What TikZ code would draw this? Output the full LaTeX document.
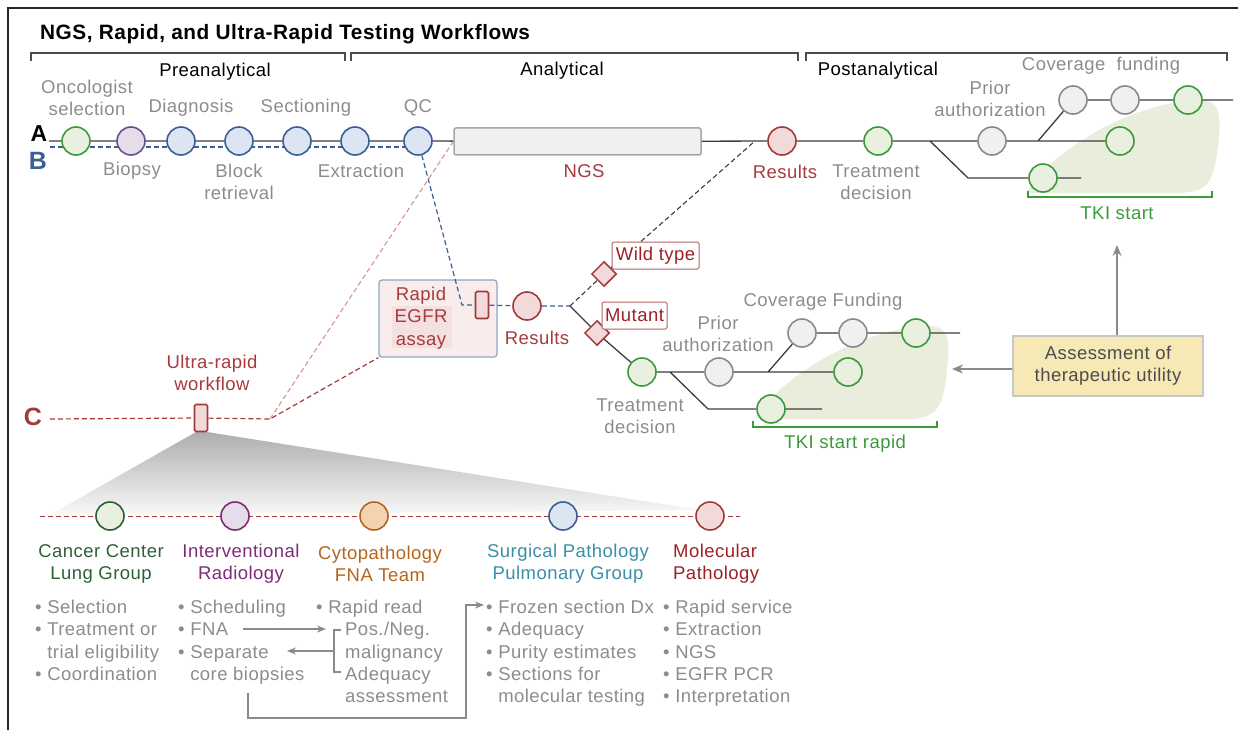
\documentclass[tikz,border=0pt]{standalone}
\usepackage{fontspec}
\setmainfont{Liberation Sans}[LetterSpace=2.5]
\usetikzlibrary{arrows.meta,shapes.geometric,calc}
\pgfdeclarelayer{bg}
\pgfsetlayers{bg,main}
\definecolor{tgray}{HTML}{8C8C8C}
\definecolor{lgray}{HTML}{3C3C3C}
\definecolor{cred}{HTML}{A33A3A}
\definecolor{fred}{HTML}{F2DADA}
\definecolor{tred}{HTML}{A83A3C}
\definecolor{cblue}{HTML}{3A5F96}
\definecolor{fblue}{HTML}{DCE6F2}
\definecolor{cgreen}{HTML}{3C9A3C}
\definecolor{fgreen}{HTML}{E9F0DF}
\definecolor{cpurp}{HTML}{6E4E8C}
\definecolor{fpurp}{HTML}{E6DDEB}
\definecolor{cgr}{HTML}{8A8A8A}
\definecolor{fgr}{HTML}{F0F0F0}
\definecolor{blobc}{HTML}{E9EEDC}
\definecolor{dkgreen}{HTML}{2E6035}
\definecolor{hpurp}{HTML}{7B2D7B}
\definecolor{horange}{HTML}{B5651D}
\definecolor{forange}{HTML}{F3D3B2}
\definecolor{hteal}{HTML}{3A8FA8}
\definecolor{hred}{HTML}{9B2226}
\definecolor{yel}{HTML}{F7E9B5}
\definecolor{ared}{HTML}{D39494}
\definecolor{egfrbd}{HTML}{8FA5C8}
\newcommand\fsA{\fontsize{18.5}{22.3}\selectfont}
\begin{document}
\begin{tikzpicture}[x=1pt,y=-1pt,
  circ/.style={circle,minimum size=28pt,inner sep=0pt,line width=1.6pt},
  gcirc/.style={circ,draw=cgreen,fill=fgreen},
  pcirc/.style={circ,draw=cpurp,fill=fpurp},
  bcirc/.style={circ,draw=cblue,fill=fblue},
  rcirc/.style={circ,draw=cred,fill=fred},
  ycirc/.style={circ,draw=cgr,fill=fgr},
  lab/.style={text=tgray,font=\fsA,align=center,inner sep=0pt},
  rlab/.style={text=tred,font=\fsA,align=center,inner sep=0pt},
  hd/.style={font=\fsA,align=center,inner sep=0pt},
  li/.style={text=tgray,font=\fsA,anchor=base west,inner sep=0pt},
  aline/.style={lgray,line width=1.3pt},
  bdash/.style={cblue,line width=1.2pt,dash pattern=on 5pt off 3pt},
  rdash/.style={cred,line width=1.2pt,dash pattern=on 5pt off 3pt},
  ldash/.style={ared,line width=1.1pt,dash pattern=on 5pt off 3pt},
  kdash/.style={lgray,line width=1.1pt,dash pattern=on 5pt off 3pt},
  dia/.style={diamond,draw=cred,fill=fred,line width=1.5pt,minimum size=25pt,inner sep=0pt},
  rrect/.style={rectangle,draw=cred,fill=fred,line width=1.6pt,minimum width=13pt,minimum height=27pt,inner sep=0pt,rounded corners=1.5pt},
  brk/.style={black!70,line width=1.4pt},
  gbrk/.style={cgreen,line width=2.2pt},
  garrow/.style={cgr,line width=1.8pt,-{Stealth[length=11pt,width=9pt]}},
  sarrow/.style={cgr,line width=1.2pt,-{Stealth[length=9pt,width=7pt]}},
  sline/.style={cgr,line width=1.2pt}
]
\useasboundingbox (0,0) rectangle (1238,730);
% frame
\draw[line width=2pt,black!85] (8,730) -- (8,8) -- (1238,8);
\node[font=\fontsize{20.8}{23}\selectfont\bfseries,anchor=base west,inner sep=0pt] (title) at (40,40) {NGS, Rapid, and Ultra-Rapid Testing Workflows};
% top brackets
\draw[brk] (31,61) -- (31,53) -- (345,53) -- (345,61);
\draw[brk] (351,61) -- (351,53) -- (798,53) -- (798,61);
\draw[brk] (806,61) -- (806,53) -- (1227,53) -- (1227,61);
\node[hd] (pre) at (215,72) {Preanalytical};
\node[hd] (ana) at (562,71) {Analytical};
\node[hd] (post) at (878,71) {Postanalytical};

% blobs
\begin{pgfonlayer}{bg}
\fill[blobc] (1028,190) .. controls (1045,160) and (1120,104) .. (1198,100)
  .. controls (1222,99) and (1221,118) .. (1218,145)
  .. controls (1214,182) and (1208,192) .. (1180,193) -- (1045,193)
  .. controls (1030,193) and (1025,193) .. (1028,190) -- cycle;
\begin{scope}[shift={(-271,226)}]
\fill[blobc] (1028,190) .. controls (1045,160) and (1120,104) .. (1198,100)
  .. controls (1222,99) and (1221,118) .. (1218,145)
  .. controls (1214,182) and (1208,192) .. (1180,193) -- (1045,193)
  .. controls (1030,193) and (1025,193) .. (1028,190) -- cycle;
\end{scope}
% gradient wedge
\shade[top color=black!32,bottom color=black!2] (196,432) -- (207,432) -- (700,510) -- (48,516) -- cycle;
\end{pgfonlayer}

% row labels
\node[font=\fontsize{23}{24}\selectfont\bfseries,inner sep=0pt] (labA) at (39,134) {A};
\node[font=\fontsize{25}{26}\selectfont\bfseries,text=cblue,inner sep=0pt] (labB) at (38,161) {B};
\node[font=\fontsize{25}{26}\selectfont\bfseries,text=cred,inner sep=0pt] (labC) at (33,417) {C};

% line A circles
\node[gcirc] (onc) at (76,141) {};
\node[pcirc] (bio) at (131,141) {};
\node[bcirc] (dia) at (181,141) {};
\node[bcirc] (blk) at (239,141) {};
\node[bcirc] (sec) at (297,141) {};
\node[bcirc] (ext) at (355,141) {};
\node[bcirc] (qc) at (418,141) {};
\node[draw=black!35,fill=fgr,line width=1.5pt,rounded corners=2pt,minimum width=247pt,minimum height=27pt,inner sep=0pt] (ngs) at (577.5,141.5) {};
\node[rcirc] (res) at (782,141) {};
\node[gcirc] (td) at (878,141) {};
\node[ycirc] (pa) at (992,141) {};
\node[ycirc] (cv1) at (1073,100) {};
\node[ycirc] (cv2) at (1125,100) {};
\node[gcirc] (g1) at (1188,100) {};
\node[gcirc] (g2) at (1120,141) {};
\node[gcirc] (g3) at (1043,178) {};
\coordinate (a0) at (49,141);
\coordinate (j0) at (755,141);
\coordinate (j1) at (930,141);
\coordinate (j2) at (1038,141);
\coordinate (j3) at (968,178);
\coordinate (e1) at (1233,100);
\coordinate (e3) at (1081,178);
\coordinate (b0) at (50,147);
\coordinate (b1) at (410,147);
\begin{pgfonlayer}{bg}
\draw[bdash] (b0) -- (b1);
\end{pgfonlayer}
\draw[aline] (a0) -- (onc) (onc) -- (bio) (bio) -- (dia) (dia) -- (blk) (blk) -- (sec) (sec) -- (ext) (ext) -- (qc) (qc) -- (ngs) (ngs) -- (res) (res) -- (td) (td) -- (j1) -- (pa) (pa) -- (g2) (j2) -- (cv1) (cv1) -- (cv2) (cv2) -- (g1) (g1) -- (e1) (j1) -- (j3) -- (g3) (g3) -- (e3);

% line A labels
\node[lab] (l1) at (87,98) {Oncologist\\selection};
\node[lab] (l2) at (191,108) {Diagnosis};
\node[lab] (l3) at (306,108) {Sectioning};
\node[lab] (l4) at (418,108) {QC};
\node[lab] (l5) at (132,171) {Biopsy};
\node[lab] (l6) at (239,182) {Block\\retrieval};
\node[lab] (l7) at (361,171) {Extraction};
\node[rlab] (l8) at (584,171) {NGS};
\node[rlab] (l9) at (785,172) {Results};
\node[lab] (l10) at (876,182) {Treatment\\decision};
\node[lab] (l11) at (990,99) {Prior\\authorization};
\node[lab] (l12) at (1101,66) {Coverage\ \ funding};
\draw[gbrk] (1028,191) -- (1028,197) -- (1212,197) -- (1212,191);
\node[text=cgreen,font=\fsA,inner sep=0pt] (tki) at (1117,213) {TKI start};

% rapid EGFR
\node[draw=egfrbd,fill=fred!50,line width=1.2pt,rounded corners=3pt,minimum width=118pt,minimum height=77pt,inner sep=0pt] (egfr) at (438,318.5) {};
\fill[fred!85] (392,306) rectangle (452,348);
\node[rlab] (egfrt) at (421,318) {Rapid\\EGFR\\assay};
\node[rrect] (rr) at (482,305) {};
\node[rcirc] (rres) at (527,306) {};
\node[rlab] (rrest) at (537,338) {Results};
\coordinate (bk) at (462,305);
\coordinate (br) at (570,306);
\draw[bdash] (qc) -- (bk) -- (rr) (rr) -- (rres) (rres) -- (br);
\node[dia] (wt) at (604,274) {};
\node[dia] (mu) at (597,333) {};
\draw[kdash] (br) -- (wt) (wt) -- (j0);
\node[draw=cred!80,fill=white,line width=1pt,rounded corners=1.5pt,text=hred,font=\fsA,minimum width=87pt,minimum height=27pt,inner sep=0pt] (wtl) at (655.5,255.5) {Wild type};
\node[draw=cred!80,fill=white,line width=1pt,rounded corners=1.5pt,text=hred,font=\fsA,minimum width=65pt,minimum height=27pt,inner sep=0pt] (mul) at (634.5,315.5) {Mutant};

% mutant branch
\node[gcirc] (td2) at (642,372) {};
\node[ycirc] (pa2) at (719,372) {};
\node[gcirc] (g5) at (848,372) {};
\node[ycirc] (cf1) at (802,333) {};
\node[ycirc] (cf2) at (853,333) {};
\node[gcirc] (g4) at (916,333) {};
\node[gcirc] (g6) at (771,409) {};
\coordinate (k1) at (670,372);
\coordinate (k2) at (768,372);
\coordinate (k3) at (708,409);
\coordinate (e4) at (960,333);
\coordinate (e6) at (822,409);
\draw[aline] (br) -- (mu) (mu) -- (td2) (td2) -- (k1) -- (pa2) (pa2) -- (g5) (k2) -- (cf1) (cf1) -- (cf2) (cf2) -- (g4) (g4) -- (e4) (k1) -- (k3) -- (g6) (g6) -- (e6);
\node[lab] (l13) at (640,416) {Treatment\\decision};
\node[lab] (l14) at (718,334) {Prior\\authorization};
\node[lab] (l15) at (823,302) {Coverage Funding};
\draw[gbrk] (753,421) -- (753,427) -- (937,427) -- (937,421);
\node[text=cgreen,font=\fsA,inner sep=0pt] (tkir) at (845,444) {TKI start rapid};

% assessment
\node[draw=black!22,fill=yel,line width=1.5pt,minimum width=190pt,minimum height=60pt,inner sep=0pt,text=black!70,font=\fsA,align=center] (assess) at (1108,366) {Assessment of\\therapeutic utility};
\coordinate (up) at (1117,245);
\coordinate (lft) at (952,369);
\draw[garrow] (up |- assess.north) -- (up);
\draw[garrow] (assess.west |- lft) -- (lft);

% line C
\node[rrect] (ur) at (201,418) {};
\node[rlab] (url) at (212,373) {Ultra-rapid\\workflow};
\coordinate (c0) at (50,419);
\coordinate (cj) at (270,419);
\draw[rdash] (c0) -- (ur) (ur) -- (cj) -- (egfr.south west);
\draw[ldash] (cj) -- (ngs.west);

% bottom line
\coordinate (d0) at (40,516);
\coordinate (d1) at (740,516);
\draw[rdash,line width=1pt] (d0) -- (d1);
\node[circ,draw=dkgreen,fill=fgreen] (s1) at (110,516) {};
\node[circ,draw=hpurp,fill=fpurp] (s2) at (235,516) {};
\node[circ,draw=horange,fill=forange] (s3) at (374,516) {};
\node[circ,draw=cblue,fill=fblue] (s4) at (563,516) {};
\node[circ,draw=cred,fill=fred] (s5) at (710,516) {};
\node[hd,text=dkgreen] (h1) at (101,564) {Cancer Center\\Lung Group};
\node[hd,text=hpurp] (h2) at (241,564) {Interventional\\Radiology};
\node[hd,text=horange] (h3) at (380,564) {Cytopathology\\FNA Team};
\node[hd,text=hteal] (h4) at (568,564) {Surgical Pathology\\Pulmonary Group};
\node[hd,text=hred,align=left,anchor=west] (h5) at (673,564) {Molecular\\Pathology};

% lists
\node[li] (a1) at (35,613.5) {• Selection};
\node[li] (a2) at (35,635.8) {• Treatment or};
\node[li] (a3) at (35,658.1) {\phantom{• }trial eligibility};
\node[li] (a4) at (35,680.4) {• Coordination};
\node[li] (b1t) at (178,613.5) {• Scheduling};
\node[li] (b2t) at (178,635.8) {• FNA};
\node[li] (b3t) at (178,658.1) {• Separate};
\node[li] (b4t) at (178,680.4) {\phantom{• }core biopsies};
\node[li] (c1t) at (316,613.5) {• Rapid read};
\node[li] (c2t) at (345,635.8) {Pos./Neg.};
\node[li] (c3t) at (345,658.1) {malignancy};
\node[li] (c4t) at (345,680.4) {Adequacy};
\node[li] (c5t) at (345,702.7) {assessment};
\node[li] (d1t) at (486,613.5) {• Frozen section Dx};
\node[li] (d2t) at (486,635.8) {• Adequacy};
\node[li] (d3t) at (486,658.1) {• Purity estimates};
\node[li] (d4t) at (486,680.4) {• Sections for};
\node[li] (d5t) at (486,702.7) {\phantom{• }molecular testing};
\node[li] (e1t) at (663,613.5) {• Rapid service};
\node[li] (e2t) at (663,635.8) {• Extraction};
\node[li] (e3t) at (663,658.1) {• NGS};
\node[li] (e4t) at (663,680.4) {• EGFR PCR};
\node[li] (e5t) at (663,702.7) {• Interpretation};

% list arrows
\coordinate (f0) at (243,629);
\coordinate (f1) at (326,629);
\draw[sarrow] (f0) -- (f1);
\coordinate (q0) at (341,630);
\coordinate (q1) at (334,630);
\coordinate (q2) at (334,672);
\coordinate (q3) at (341,672);
\draw[sline] (q0) -- (q1) -- (q2) -- (q3);
\coordinate (r0) at (334,651);
\coordinate (r1) at (287,651);
\draw[sarrow] (r0) -- (r1);
\coordinate (p0) at (248,693);
\coordinate (p1) at (248,718);
\coordinate (p2) at (466,718);
\coordinate (p3) at (466,605);
\coordinate (p4) at (484,605);
\draw[sarrow] (p0) -- (p1) -- (p2) -- (p3) -- (p4);
\end{tikzpicture}
\end{document}
